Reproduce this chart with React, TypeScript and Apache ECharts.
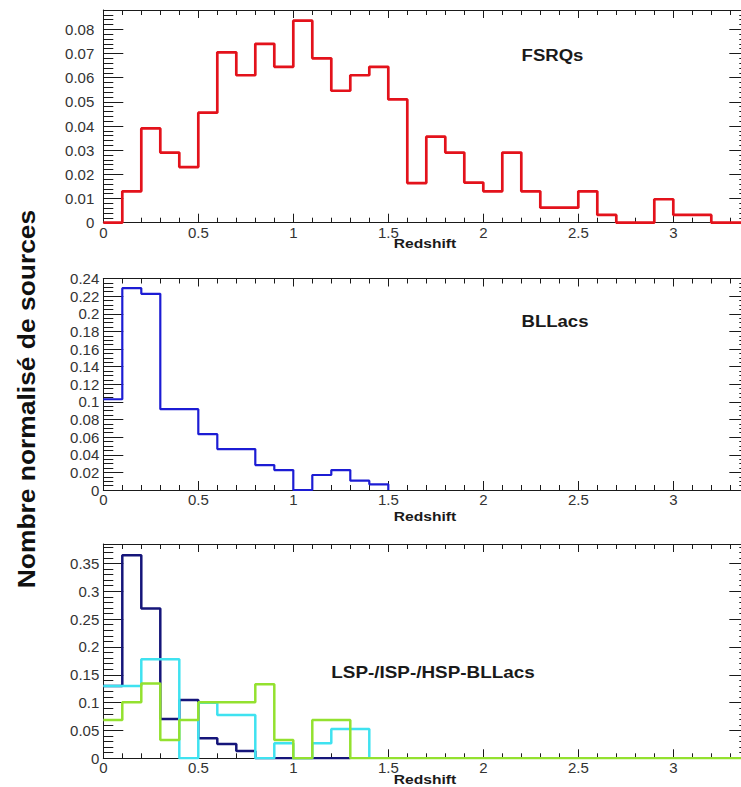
import React, { useEffect, useRef } from 'react';
import * as echarts from 'echarts';

// ---- data (histograms, bin width 0.1 starting at redshift 0) ----
const BIN_WIDTH = 0.1;
const X_MAX = 3.4;
const X_MAJOR = 0.5;
const X_MINOR = 0.1;

const fsrqValues = [
  0, 0.013, 0.039, 0.029, 0.023, 0.0455, 0.0705, 0.061, 0.074, 0.0645,
  0.0836, 0.068, 0.0546, 0.061, 0.0645, 0.051, 0.0164, 0.0356, 0.029, 0.0166,
  0.013, 0.029, 0.013, 0.0062, 0.0062, 0.013, 0.0032, 0, 0, 0.0097,
  0.0032, 0.0032, 0, 0,
];
const bllacValues = [
  0.103, 0.229, 0.2226, 0.0917, 0.0917, 0.0634, 0.0464, 0.0464, 0.0283, 0.0226,
  0, 0.017, 0.0226, 0.0106, 0.0064,
];
const lspValues = [0.13, 0.365, 0.269, 0.0706, 0.1047, 0.036, 0.0257, 0.013, 0, 0, 0, 0, 0];
const ispValues = [0.13, 0.13, 0.178, 0.178, 0, 0.1, 0.078, 0.078, 0, 0.027, 0, 0.027, 0.0527, 0.0527];
const hspValues = [
  0.0688, 0.1005, 0.1346, 0.0329, 0.0688, 0.1005, 0.1005, 0.1005, 0.133, 0.033,
  0, 0.069, 0.069, 0, 0, 0, 0, 0, 0, 0,
  0, 0, 0, 0, 0, 0, 0, 0, 0, 0,
  0, 0, 0, 0,
];

const panelYMax = [0.088, 0.24, 0.385];
const panelYMajor = [0.01, 0.02, 0.05];
const panelYMinor = [0.002, 0.005, 0.01];
const panelTitles = ['FSRQs', 'BLLacs', 'LSP-/ISP-/HSP-BLLacs'];
const xAxisTitle = 'Redshift';
const yAxisTitle = 'Nombre normalisé de sources';

// ---- styles / layout ----
const FONT = '"Liberation Sans", Arial, Helvetica, sans-serif';
const AXIS_COLOR = '#1a1a1a';
const LABEL_COLOR = '#333333';
const grids = [
  { left: 103.3, top: 10, width: 646, height: 212.7 },
  { left: 103.3, top: 278.5, width: 646, height: 211.5 },
  { left: 103.3, top: 544, width: 646, height: 214.3 },
];
const yLabelMargins = [9, 4, 4];
const titlePos = [
  { x: 552.5, y: 55.7, sx: 1.16 },
  { x: 555, y: 321.5, sx: 1.16 },
  { x: 433, y: 673, sx: 1.18 },
];
const xTitleY = [243, 516, 779];

function toSteps(values: number[]) {
  const pts: number[][] = values.map((v, i) => [+(i * BIN_WIDTH).toFixed(2), v]);
  pts.push([+(values.length * BIN_WIDTH).toFixed(2), 0]);
  return pts;
}

function xAxisDef(grid: number, position: string, interval: number, tickLen: number, showLabel: boolean, showLine: boolean) {
  return {
    type: 'value',
    gridIndex: grid,
    position,
    min: 0,
    max: X_MAX,
    interval,
    axisLine: { show: showLine, onZero: false, lineStyle: { color: AXIS_COLOR, width: 1 } },
    axisTick: { show: true, inside: true, length: tickLen, lineStyle: { color: AXIS_COLOR, width: 1 } },
    axisLabel: {
      show: showLabel,
      showMaxLabel: false,
      margin: 2,
      fontSize: 15,
      color: LABEL_COLOR,
      fontFamily: FONT,
    },
    splitLine: { show: false },
  };
}

function yAxisDef(grid: number, position: string, max: number, interval: number, tickLen: number, showLabel: boolean, showLine: boolean, margin: number) {
  const nice = Math.abs(max / interval - Math.round(max / interval)) < 1e-6;
  return {
    type: 'value',
    gridIndex: grid,
    position,
    min: 0,
    max,
    interval,
    axisLine: { show: showLine, onZero: false, lineStyle: { color: AXIS_COLOR, width: 1 } },
    axisTick: { show: true, inside: true, length: tickLen, lineStyle: { color: AXIS_COLOR, width: 1 } },
    axisLabel: {
      show: showLabel,
      showMaxLabel: nice ? true : false,
      margin,
      fontSize: 15,
      color: LABEL_COLOR,
      fontFamily: FONT,
    },
    splitLine: { show: false },
  };
}

function buildOption() {
  const xAxes: any[] = [];
  const yAxes: any[] = [];
  const mainX: number[] = [];
  const mainY: number[] = [];
  for (let g = 0; g < 3; g++) {
    mainX.push(xAxes.length);
    xAxes.push(xAxisDef(g, 'bottom', X_MAJOR, 9, true, true));
    xAxes.push(xAxisDef(g, 'bottom', X_MINOR, 5, false, false));
    xAxes.push(xAxisDef(g, 'top', X_MAJOR, 8, false, true));
    xAxes.push(xAxisDef(g, 'top', X_MINOR, 5, false, false));
    mainY.push(yAxes.length);
    yAxes.push(yAxisDef(g, 'left', panelYMax[g], panelYMajor[g], 20, true, true, yLabelMargins[g]));
    yAxes.push(yAxisDef(g, 'left', panelYMax[g], panelYMinor[g], 10, false, false, 0));
    yAxes.push(yAxisDef(g, 'right', panelYMax[g], panelYMajor[g], 20, false, true, 0));
    yAxes.push(yAxisDef(g, 'right', panelYMax[g], panelYMinor[g], 10, false, false, 0));
  }

  const stepSeries = (name: string, values: number[], g: number, color: string, width: number) => ({
    name,
    type: 'line',
    step: 'end',
    xAxisIndex: mainX[g],
    yAxisIndex: mainY[g],
    data: toSteps(values),
    showSymbol: false,
    symbol: 'none',
    lineStyle: { color, width },
    itemStyle: { color },
  });

  const graphics: any[] = [
    {
      type: 'text',
      x: 26,
      y: 399,
      rotation: Math.PI / 2,
      scaleX: 1.1,
      style: {
        text: yAxisTitle,
        font: `bold 24px ${FONT}`,
        fill: '#111',
        textAlign: 'center',
        textVerticalAlign: 'middle',
      },
    },
  ];
  for (let g = 0; g < 3; g++) {
    graphics.push({
      type: 'text',
      x: titlePos[g].x,
      y: titlePos[g].y,
      scaleX: titlePos[g].sx,
      style: {
        text: panelTitles[g],
        font: `bold 16px ${FONT}`,
        fill: '#1a1a1a',
        textAlign: 'center',
        textVerticalAlign: 'middle',
      },
    });
    graphics.push({
      type: 'text',
      x: 425,
      y: xTitleY[g],
      scaleX: 1.2,
      style: {
        text: xAxisTitle,
        font: `bold 13px ${FONT}`,
        fill: '#1a1a1a',
        textAlign: 'center',
        textVerticalAlign: 'middle',
      },
    });
  }

  return {
    animation: false,
    backgroundColor: '#ffffff',
    grid: grids.map((r) => ({ ...r, containLabel: false, outerBoundsMode: 'none' })),
    xAxis: xAxes,
    yAxis: yAxes,
    series: [
      stepSeries('FSRQs', fsrqValues, 0, '#e3121b', 2.7),
      stepSeries('BLLacs', bllacValues, 1, '#1c1cd4', 2.2),
      stepSeries('LSP-BLLacs', lspValues, 2, '#15157a', 2.5),
      stepSeries('ISP-BLLacs', ispValues, 2, '#3fe2f0', 2.5),
      stepSeries('HSP-BLLacs', hspValues, 2, '#93e12f', 2.5),
    ],
    graphic: graphics,
  };
}

export default function App() {
  const ref = useRef<HTMLDivElement | null>(null);
  useEffect(() => {
    if (!ref.current) return;
    const chart = echarts.init(ref.current, undefined, { renderer: 'svg' });
    chart.setOption(buildOption() as any);
    return () => chart.dispose();
  }, []);
  return (
    <div
      ref={ref}
      style={{ position: 'absolute', left: 0, top: 0, width: 741, height: 787, background: '#fff' }}
    />
  );
}
